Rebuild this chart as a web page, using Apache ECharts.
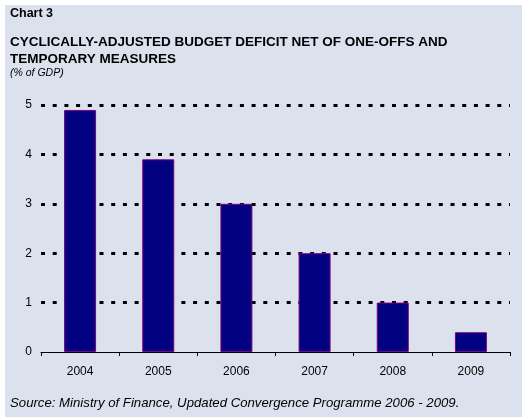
<!DOCTYPE html>
<html>
<head>
<meta charset="utf-8">
<script src="https://cdn.jsdelivr.net/npm/echarts@6/dist/echarts.min.js"></script>
<style>
  html, body { margin: 0; padding: 0; background: #ffffff; }
  #chart { position: absolute; left: 5px; top: 5px; width: 517px; height: 412px; background: #dce1ee; }
</style>
</head>
<body>
<div id="chart"></div>
<script>
// Cyclically-adjusted budget deficit net of one-offs, % of GDP
const years = ['2004', '2005', '2006', '2007', '2008', '2009'];
const deficit = [4.9, 3.9, 3.0, 2.0, 1.0, 0.4];
const yTicks = [0, 1, 2, 3, 4, 5];

const titleLine1 = 'Chart 3';
const titleLine2 = 'CYCLICALLY-ADJUSTED BUDGET DEFICIT NET OF ONE-OFFS AND';
const titleLine3 = 'TEMPORARY MEASURES';
const unitText = '(% of GDP)';
const sourceText = 'Source: Ministry of Finance, Updated Convergence Programme 2006 - 2009.';

const chart = echarts.init(document.getElementById('chart'), null, { renderer: 'canvas' });
const font = 'Liberation Sans, Arial, sans-serif';

chart.setOption({
  backgroundColor: '#dce1ee',
  animation: false,
  textStyle: { fontFamily: font },
  graphic: [
    { type: 'text', left: 5, top: 2, style: { text: titleLine1, font: 'bold 12.5px ' + font, fill: '#000' } },
    { type: 'text', left: 5, top: 30, style: { text: titleLine2, font: 'bold 13.5px ' + font, fill: '#000' } },
    { type: 'text', left: 5, top: 47, style: { text: titleLine3, font: 'bold 13.5px ' + font, fill: '#000' } },
    { type: 'text', left: 5, top: 63, style: { text: unitText, font: 'italic 10.5px ' + font, fill: '#000' } },
    { type: 'text', left: 5, top: 392, style: { text: sourceText, font: 'italic 13.2px ' + font, fill: '#000' } }
  ],
  grid: { left: 36, right: 12, top: 100, bottom: 65 },
  xAxis: {
    type: 'category',
    data: years,
    axisLine: { lineStyle: { color: '#000', width: 1 } },
    axisTick: { show: true, length: 4, lineStyle: { color: '#000' } },
    axisLabel: { color: '#000', fontSize: 12, margin: 14 },
    splitLine: { show: false }
  },
  yAxis: {
    type: 'value',
    min: yTicks[0],
    max: yTicks[yTicks.length - 1],
    interval: 1,
    axisLine: { show: false },
    axisTick: { show: false },
    axisLabel: { color: '#000', fontSize: 12, margin: 9 },
    splitLine: {
      show: true,
      showMinLine: false,
      lineStyle: { color: '#000', width: 3, type: [4, 7.7], dashOffset: 0 }
    }
  },
  series: [{
    type: 'bar',
    data: deficit,
    barWidth: 32,
    itemStyle: { color: '#000080', borderColor: '#800080', borderWidth: 1 }
  }]
});
</script>
</body>
</html>
